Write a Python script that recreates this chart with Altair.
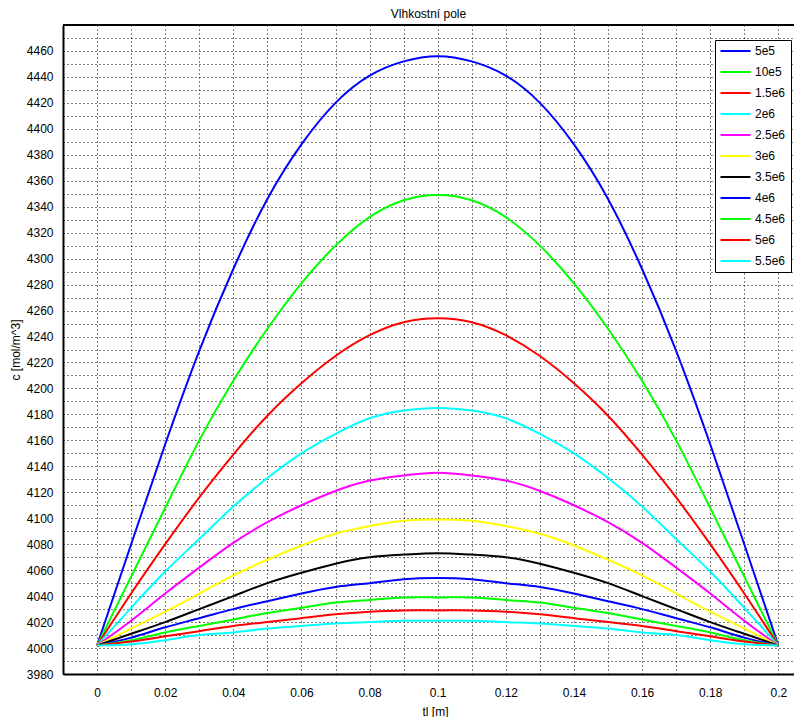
import altair as alt
import pandas as pd

# ---- data ----
x_vals = [0.0, 0.01, 0.02, 0.03, 0.04, 0.05, 0.06, 0.07, 0.08, 0.09, 0.1,
          0.11, 0.12, 0.13, 0.14, 0.15, 0.16, 0.17, 0.18, 0.19, 0.2]

series_names = ["5e5", "10e5", "1.5e6", "2e6", "2.5e6", "3e6",
                "3.5e6", "4e6", "4.5e6", "5e6", "5.5e6"]
series_colors = ["#0000ff", "#00ff00", "#ff0000", "#00ffff", "#ff00ff", "#ffff00",
                 "#000000", "#0000ff", "#00ff00", "#ff0000", "#00ffff"]

c_5e5 = [4002, 4080, 4157, 4229, 4292, 4346, 4388, 4420, 4441, 4452, 4456,
         4452, 4441, 4420, 4388, 4346, 4292, 4229, 4157, 4080, 4002]
c_10e5 = [4002, 4055, 4108, 4160, 4206, 4246, 4281, 4310, 4332, 4345, 4349,
          4345, 4332, 4310, 4281, 4246, 4206, 4160, 4108, 4055, 4002]
c_15e6 = [4002, 4042, 4080, 4116, 4149, 4179, 4204, 4225, 4241, 4251, 4254,
          4251, 4241, 4225, 4204, 4179, 4149, 4116, 4080, 4042, 4002]
c_2e6 = [4002, 4031, 4059, 4084, 4109, 4131, 4150, 4165, 4177, 4183, 4185,
         4183, 4177, 4165, 4150, 4131, 4109, 4084, 4059, 4031, 4002]
c_25e6 = [4002, 4021, 4042, 4062, 4081, 4097, 4110, 4121, 4129, 4133, 4135,
          4133, 4129, 4121, 4110, 4097, 4081, 4062, 4042, 4021, 4002]
c_3e6 = [4002, 4015, 4028, 4042, 4056, 4068, 4079, 4088, 4094, 4098, 4099,
         4098, 4094, 4088, 4079, 4068, 4056, 4042, 4028, 4015, 4002]
c_35e6 = [4002, 4011, 4020, 4030, 4040, 4050, 4058, 4065, 4070, 4072, 4073,
          4072, 4070, 4065, 4058, 4050, 4040, 4030, 4020, 4011, 4002]
c_4e6 = [4002, 4008, 4016, 4023, 4030, 4036, 4042, 4047, 4050, 4053, 4054,
         4053, 4050, 4047, 4042, 4036, 4030, 4023, 4016, 4008, 4002]
c_45e6 = [4002, 4006, 4012, 4017, 4022, 4027, 4031, 4035, 4037, 4039, 4039,
          4039, 4037, 4035, 4031, 4027, 4022, 4017, 4012, 4006, 4002]
c_5e6 = [4002, 4005, 4009, 4013, 4017, 4020, 4023, 4026, 4028, 4029, 4029,
         4029, 4028, 4026, 4023, 4020, 4017, 4013, 4009, 4005, 4002]
c_55e6 = [4002, 4003, 4006, 4010, 4012, 4015, 4017, 4019, 4020, 4021, 4021,
          4021, 4020, 4019, 4017, 4015, 4012, 4010, 4006, 4003, 4002]

x_grid = [-0.01, 0.0, 0.01, 0.02, 0.03, 0.04, 0.05, 0.06, 0.07, 0.08, 0.09, 0.1,
          0.11, 0.12, 0.13, 0.14, 0.15, 0.16, 0.17, 0.18, 0.19, 0.2]
y_grid = list(range(3980, 4480, 10))

all_series = [c_5e5, c_10e5, c_15e6, c_2e6, c_25e6, c_3e6,
              c_35e6, c_4e6, c_45e6, c_5e6, c_55e6]

rows = []
for name, vals in zip(series_names, all_series):
    for xv, yv in zip(x_vals, vals):
        rows.append({"series": name, "tl": xv, "c": yv})
df = pd.DataFrame(rows)

FONT = "Liberation Sans"

x_axis = alt.Axis(
    title="tl [m]", values=x_grid,
    labelExpr="abs(round(datum.value*100)) % 2 == 0 ? format(datum.value, '.2~f') : ''",
    grid=True, gridColor="#000000", gridDash=[1, 3], gridWidth=1, gridOpacity=1,
    domainColor="#000000", domainWidth=2, ticks=False, tickSize=0,
    labelPadding=13, labelFontSize=12, labelFont=FONT, labelColor="#000000",
    titleFontSize=12, titleFont=FONT, titleFontWeight="normal", titleColor="#000000",
    titleX=372, titleY=32,
)
y_axis = alt.Axis(
    title="c [mol/m^3]", values=y_grid,
    labelExpr="datum.value % 20 == 0 ? format(datum.value, 'd') : ''",
    grid=True, gridColor="#000000", gridDash=[1, 3], gridWidth=1, gridOpacity=1,
    domainColor="#000000", domainWidth=2, ticks=False, tickSize=0,
    labelPadding=10, labelFontSize=12, labelFont=FONT, labelColor="#000000",
    titleFontSize=12, titleFont=FONT, titleFontWeight="normal", titleColor="#000000",
    titleX=-41,
)

lines = alt.Chart(df).mark_line(strokeWidth=2, interpolate="natural").encode(
    x=alt.X("tl:Q", scale=alt.Scale(domain=[-0.01, 0.2046], nice=False, zero=False), axis=x_axis),
    y=alt.Y("c:Q", scale=alt.Scale(domain=[3980, 4480], nice=False, zero=False), axis=y_axis),
    color=alt.Color(
        "series:N",
        scale=alt.Scale(domain=series_names, range=series_colors),
        sort=series_names,
        legend=alt.Legend(
            title=None, orient="none", legendX=652, legendY=15,
            fillColor="#ffffff", strokeColor="#000000", padding=5,
            symbolType="M-3,0L3,0", symbolSize=100, symbolStrokeWidth=2,
            symbolOffset=9.5, labelOffset=13.5, rowPadding=9,
            labelExpr="datum.label + ' '",
            labelFontSize=12, labelFont=FONT, labelColor="#000000",
        ),
    ),
)

top_border = alt.Chart(df).mark_rule(color="#000000", strokeWidth=1).encode(
    y=alt.value(0)
)

chart = alt.layer(lines, top_border).properties(
    width=731, height=649,
    title=alt.TitleParams("Vlhkostní pole", fontSize=12, font=FONT,
                          fontWeight="normal", color="#000000", offset=4),
    autosize=alt.AutoSizeParams(type="none"),
    padding={"left": 55, "top": 17, "right": 0, "bottom": 43},
).configure_view(stroke=None).configure(background="#ffffff")

chart.save("out.html", embed_options={"renderer": "svg", "actions": False})
